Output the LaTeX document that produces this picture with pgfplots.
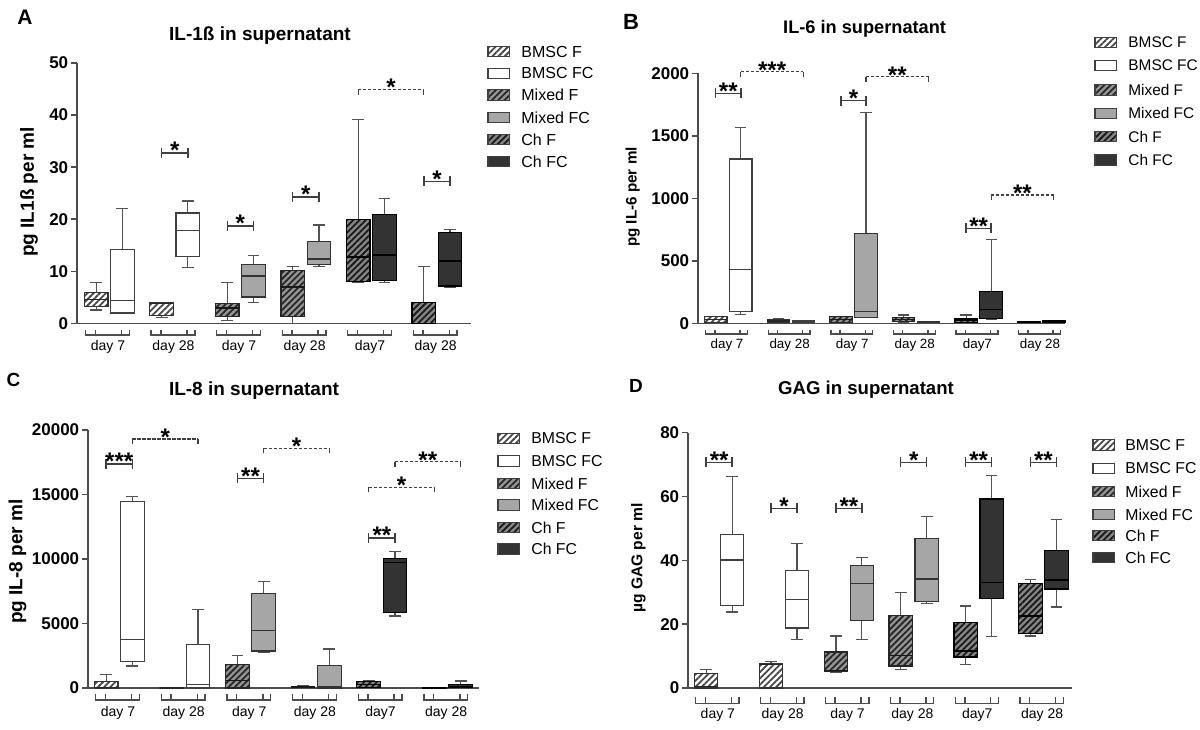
\documentclass[border=0pt]{standalone}
\usepackage{fontspec}
\setmainfont{Liberation Sans}
\usepackage{pgfplots}
\pgfplotsset{compat=1.18}
\usetikzlibrary{patterns.meta}

\tikzset{
 hatch/.style={pattern color=#1, pattern={Lines[angle=45,distance=2.2pt,line width=0.9pt]}},
 fBF/.style={preaction={fill=white}, preaction={hatch=black!72}},
 fBFC/.style={fill=white},
 fMF/.style={preaction={fill=black!42}, preaction={hatch=black!85}},
 fMFC/.style={fill=black!35},
 fCF/.style={preaction={fill=black!48}, preaction={hatch=black!90}},
 fCFC/.style={fill=black!80},
}

\pgfplotsset{
 wsk/.style={draw=black!68, line width=0.6pt, mark=none},
 BFbox/.style={fBF, draw=black!80, line width=0.6pt, mark=none},
 BFCbox/.style={fBFC, draw=black!75, line width=0.6pt, mark=none},
 MFbox/.style={fMF, draw=black!85, line width=0.6pt, mark=none},
 MFCbox/.style={fMFC, draw=black!80, line width=0.6pt, mark=none},
 CFbox/.style={fCF, draw=black, line width=0.6pt, mark=none},
 CFCbox/.style={fCFC, draw=black, line width=0.6pt, mark=none},
 BFmed/.style={draw=black!85, line width=0.7pt, mark=none},
 BFCmed/.style={draw=black!75, line width=0.7pt, mark=none},
 MFmed/.style={draw=black!90, line width=0.7pt, mark=none},
 MFCmed/.style={draw=black!80, line width=0.7pt, mark=none},
 CFmed/.style={draw=black, line width=0.7pt, mark=none},
 CFCmed/.style={draw=black, line width=0.8pt, mark=none},
 panel/.style={
  anchor=south west, scale only axis, clip=false, enlargelimits=false,
  axis x line=bottom, axis y line=left,
  axis line style={-, draw=black!70, line width=0.8pt},
  xtick=\empty, ymin=0,
  tick align=outside, major tick length=3pt,
  tick style={draw=black!70, line width=0.8pt},
  yticklabel style={font=\fontsize{8.5}{9}\selectfont\bfseries, inner sep=1.2pt},
  scaled y ticks=false,
  /pgf/number format/assume math mode=true,
  /pgf/number format/1000 sep={},
 },
}

% box: series, position, lower whisker, lower quartile, median, upper quartile, upper whisker
\newcommand{\bx}[7]{%
 \pgfmathsetmacro\xl{#2-0.45}\pgfmathsetmacro\xr{#2+0.45}%
 \pgfmathsetmacro\cL{#2-0.225}\pgfmathsetmacro\cR{#2+0.225}%
 \addplot[wsk] coordinates {(#2,#6) (#2,#7)};
 \addplot[wsk] coordinates {(\cL,#7) (\cR,#7)};
 \addplot[wsk] coordinates {(#2,#4) (#2,#3)};
 \addplot[wsk] coordinates {(\cL,#3) (\cR,#3)};
 \addplot[#1box] coordinates {(\xl,#4) (\xr,#4) (\xr,#6) (\xl,#6)} -- cycle;
 \addplot[#1med] coordinates {(\xl,#5) (\xr,#5)};
}

\newcommand{\starfont}{\fontsize{12}{12}\selectfont\bfseries}
% solid significance bracket: x1, x2, y, stars, midpoint
\newcommand{\sigS}[5]{%
 \draw[black!75, line width=0.7pt] ([yshift=2.5pt]axis cs:#1,#3) -- ([yshift=-2.5pt]axis cs:#1,#3)
   (axis cs:#1,#3) -- (axis cs:#2,#3)
   ([yshift=2.5pt]axis cs:#2,#3) -- ([yshift=-2.5pt]axis cs:#2,#3);
 \node[font=\starfont, inner sep=0pt, anchor=base, yshift=-2.9pt] at (axis cs:#5,#3) {#4};
}
% dashed significance bracket
\newcommand{\sigD}[5]{%
 \draw[black!75, line width=0.65pt, dash pattern=on 1.6pt off 0.9pt] (axis cs:#1,#3) -- (axis cs:#2,#3);
 \draw[black!75, line width=0.65pt] ([yshift=-2.5pt]axis cs:#1,#3) -- (axis cs:#1,#3)
   ([yshift=-2.5pt]axis cs:#2,#3) -- (axis cs:#2,#3);
 \node[font=\starfont, inner sep=0pt, anchor=base, yshift=-3.2pt] at (axis cs:#5,#3) {#4};
}
% group bracket under the x axis: left, inner1, inner2, right, label centre, label
\newcommand{\grp}[6]{%
 \draw[black!70, line width=0.7pt] ([yshift=-\bt]axis cs:#1,0) -- ([yshift=-\bl]axis cs:#1,0) -- ([yshift=-\bl]axis cs:#4,0) -- ([yshift=-\bt]axis cs:#4,0);
 \draw[black!70, line width=0.7pt] ([yshift=-\bt]axis cs:#2,0) -- ([yshift=-\bl]axis cs:#2,0)
   ([yshift=-\bt]axis cs:#3,0) -- ([yshift=-\bl]axis cs:#3,0);
 \node[font=\dayfont, inner sep=0pt] at ([yshift=-\dl]axis cs:#5,0) {#6};
}
\newcommand{\allgroups}{%
 \grp{-0.4}{-0.03}{0.97}{1.27}{0.45}{day 7}
 \grp{2.1}{2.47}{3.47}{3.77}{2.95}{day 28}
 \grp{4.6}{4.97}{5.97}{6.27}{5.45}{day 7}
 \grp{7.1}{7.47}{8.47}{8.77}{7.95}{day 28}
 \grp{9.6}{9.97}{10.97}{11.27}{10.45}{day7}
 \grp{12.1}{12.47}{13.47}{13.77}{12.95}{day 28}
}
% legend row: swatch x, y centre, fill style, text, text x, font size
\newcommand{\lgdrow}[6]{%
 \draw[black!75, line width=0.6pt, #3] (#1,#2-2.6pt) rectangle ++(10.8pt,5.2pt);
 \node[anchor=west, font=\fontsize{#6}{#6}\selectfont, inner sep=0pt] at (#5,#2) {#4};
}
\newcommand{\lgd}[9]{% x, y1..y6, fontsize, text x
 \lgdrow{#1}{#2}{fBF}{BMSC F}{#9}{#8}
 \lgdrow{#1}{#3}{fBFC}{BMSC FC}{#9}{#8}
 \lgdrow{#1}{#4}{fMF}{Mixed F}{#9}{#8}
 \lgdrow{#1}{#5}{fMFC}{Mixed FC}{#9}{#8}
 \lgdrow{#1}{#6}{fCF}{Ch F}{#9}{#8}
 \lgdrow{#1}{#7}{fCFC}{Ch FC}{#9}{#8}
}

\begin{document}
\begin{tikzpicture}
\useasboundingbox (0,0) rectangle (600pt,364.5pt);

% ================= A =================
\def\bl{5.8pt}\def\bt{3.2pt}\def\dl{11.75pt}
\def\dayfont{\fontsize{7}{7}\selectfont}
\begin{axis}[panel, at={(38.5pt,202.75pt)}, width=197pt, height=130.25pt,
  xmin=-0.73, xmax=14.3, ymax=50, ytick={0,10,20,30,40,50}]
\bx{BF}{0}{2.6}{3.2}{4.6}{5.9}{7.9}
\bx{BFC}{1}{1.9}{2.0}{4.4}{14.2}{22.0}
\bx{BF}{2.5}{1.2}{1.6}{3.8}{4.0}{4.1}
\bx{BFC}{3.5}{10.8}{12.9}{17.9}{21.2}{23.5}
\bx{MF}{5}{0.5}{1.3}{3.0}{3.9}{7.9}
\bx{MFC}{6}{4.0}{5.1}{9.1}{11.3}{13.1}
\bx{MF}{7.5}{0}{1.4}{7.0}{10.2}{11.0}
\bx{MFC}{8.5}{11.0}{11.4}{12.4}{15.8}{18.9}
\bx{CF}{10}{7.9}{8.1}{12.8}{19.9}{39.1}
\bx{CFC}{11}{7.8}{8.2}{13.2}{20.9}{24.0}
\bx{CF}{12.5}{0}{0}{0.05}{4.0}{11.0}
\bx{CFC}{13.5}{7.0}{7.2}{12.0}{17.5}{18.0}
\sigS{2.5}{3.5}{32.7}{*}{3}
\sigS{5}{6}{18.7}{*}{5.5}
\sigS{7.5}{8.5}{24.3}{*}{8}
\sigS{12.5}{13.5}{27.3}{*}{13}
\sigD{10}{12.5}{44.9}{*}{11.25}
\allgroups
\end{axis}
\node[font=\fontsize{10.5}{10.5}\selectfont\bfseries] at (12.5pt,356pt) {A};
\node[font=\fontsize{9.5}{9.5}\selectfont\bfseries] at (130pt,346.5pt) {IL-1ß in supernatant};
\node[font=\fontsize{9.5}{9.5}\selectfont\bfseries, rotate=90] at (14.5pt,268.5pt) {pg IL1ß per ml};
\lgd{244pt}{338.7pt}{327.8pt}{317pt}{305.8pt}{294.8pt}{283.7pt}{8}{260.5pt}

% ================= B =================
\def\bl{5.3pt}\def\bt{3.2pt}\def\dl{11pt}
\def\dayfont{\fontsize{6.7}{6.7}\selectfont}
\begin{axis}[panel, at={(349pt,202.8pt)}, width=183.5pt, height=125pt,
  xmin=-0.71, xmax=13.95, ymax=2000, ytick={0,500,1000,1500,2000}]
\bx{BF}{0}{0}{5}{30}{52}{55}
\bx{BFC}{1}{72}{93}{432}{1315}{1568}
\bx{BF}{2.5}{5}{10}{20}{27}{35}
\bx{BFC}{3.5}{5}{8}{14}{20}{22}
\bx{MF}{5}{0}{5}{30}{52}{55}
\bx{MFC}{6}{48}{50}{93}{720}{1688}
\bx{MF}{7.5}{5}{13}{32}{48}{67}
\bx{MFC}{8.5}{3}{6}{10}{15}{18}
\bx{CF}{10}{0}{5}{27}{40}{67}
\bx{CFC}{11}{32}{40}{112}{253}{672}
\bx{CF}{12.5}{5}{8}{12}{16}{18}
\bx{CFC}{13.5}{5}{8}{14}{20}{22}
\sigS{0}{1}{1840}{**}{0.5}
\sigD{1}{3.5}{2013}{***}{2.25}
\sigS{5}{6}{1781}{*}{5.5}
\sigD{6}{8.5}{1973}{**}{7.25}
\sigS{10}{11}{760}{**}{10.5}
\sigD{11}{13.5}{1027}{**}{12.25}
\allgroups
\end{axis}
\node[font=\fontsize{11}{11}\selectfont\bfseries] at (315.5pt,353.5pt) {B};
\node[font=\fontsize{9.1}{9.1}\selectfont\bfseries] at (432.3pt,350pt) {IL-6 in supernatant};
\node[font=\fontsize{7.6}{7.6}\selectfont\bfseries, rotate=90] at (316.3pt,266pt) {pg IL-6 per ml};
\lgd{547.5pt}{343.2pt}{331.7pt}{319.5pt}{307.8pt}{296.2pt}{284.5pt}{7.7}{564pt}

% ================= C =================
\def\bl{6pt}\def\bt{3.2pt}\def\dl{12.2pt}
\def\dayfont{\fontsize{7}{7}\selectfont}
\begin{axis}[panel, at={(44pt,20.5pt)}, width=195.5pt, height=129pt,
  xmin=-0.69, xmax=14.2, ymax=20000, ytick={0,5000,10000,15000,20000}]
\bx{BF}{0}{0}{0}{60}{517}{1035}
\bx{BFC}{1}{1707}{2070}{3777}{14435}{14824}
\bx{BF}{2.5}{0}{0}{5}{10}{15}
\bx{BFC}{3.5}{0}{0}{259}{3363}{6080}
\bx{MF}{5}{0}{0}{595}{1837}{2535}
\bx{MFC}{6}{2742}{2872}{4476}{7321}{8227}
\bx{MF}{7.5}{0}{20}{80}{130}{207}
\bx{MFC}{8.5}{0}{0}{78}{1759}{3027}
\bx{CF}{10}{0}{30}{260}{517}{595}
\bx{CFC}{11}{5588}{5847}{9727}{10038}{10607}
\bx{CF}{12.5}{0}{0}{5}{10}{15}
\bx{CFC}{13.5}{0}{20}{130}{259}{543}
\sigS{0}{1}{17359}{***}{0.5}
\sigD{1}{3.5}{19299}{*}{2.25}
\sigS{5}{6}{16246}{**}{5.5}
\sigD{6}{8.5}{18575}{*}{7.25}
\sigS{10}{11}{11641}{**}{10.5}
\sigD{10}{12.5}{15548}{*}{11.25}
\sigD{11}{13.5}{17540}{**}{12.25}
\allgroups
\end{axis}
\node[font=\fontsize{9.5}{9.5}\selectfont\bfseries] at (6.7pt,174.5pt) {C};
\node[font=\fontsize{9.5}{9.5}\selectfont\bfseries] at (127pt,169pt) {IL-8 in supernatant};
\node[font=\fontsize{9.5}{9.5}\selectfont\bfseries, rotate=90] at (8.7pt,83.7pt) {pg IL-8 per ml};
\lgd{249pt}{145.3pt}{134pt}{122.8pt}{112pt}{100.8pt}{90pt}{7.9}{265.5pt}

% ================= D =================
\def\bl{7.7pt}\def\bt{4.5pt}\def\dl{13.5pt}
\def\dayfont{\fontsize{7}{7}\selectfont}
\begin{axis}[panel, at={(344pt,20.5pt)}, width=192pt, height=127.7pt,
  xmin=-0.7, xmax=14.1, ymax=80, ytick={0,20,40,60,80}]
\bx{BF}{0}{0}{0}{0.5}{4.5}{5.9}
\bx{BFC}{1}{23.8}{25.9}{40.1}{48.1}{66.2}
\bx{BF}{2.5}{0}{0}{7.3}{7.6}{8.2}
\bx{BFC}{3.5}{15.3}{18.8}{27.8}{36.9}{45.3}
\bx{MF}{5}{4.8}{5.2}{5.5}{11.3}{16.3}
\bx{MFC}{6}{15.3}{21.1}{32.7}{38.3}{40.9}
\bx{MF}{7.5}{5.8}{6.9}{10.2}{22.8}{29.9}
\bx{MFC}{8.5}{26.5}{27.0}{34.1}{46.9}{53.6}
\bx{CF}{10}{7.3}{9.7}{11.6}{20.5}{25.7}
\bx{CFC}{11}{16.2}{28.0}{33.0}{59.2}{66.5}
\bx{CF}{12.5}{16.3}{17.0}{22.6}{32.7}{34.0}
\bx{CFC}{13.5}{25.4}{31.0}{33.8}{43.0}{52.9}
\sigS{0}{1}{70.7}{**}{0.5}
\sigS{2.5}{3.5}{56.3}{*}{3}
\sigS{5}{6}{56.3}{**}{5.5}
\sigS{7.5}{8.5}{70.7}{*}{8}
\sigS{10}{11}{70.7}{**}{10.5}
\sigS{12.5}{13.5}{70.7}{**}{13}
\allgroups
\end{axis}
\node[font=\fontsize{9.5}{9.5}\selectfont\bfseries] at (318pt,171.6pt) {D};
\node[font=\fontsize{9.3}{9.3}\selectfont\bfseries] at (433pt,169.5pt) {GAG in supernatant};
\node[font=\fontsize{7.8}{7.8}\selectfont\bfseries, rotate=90] at (319.2pt,85.5pt) {µg GAG per ml};
\lgd{546.5pt}{142pt}{130.3pt}{118.7pt}{107.3pt}{96.7pt}{85.7pt}{7.9}{562.5pt}
\end{tikzpicture}
\end{document}
